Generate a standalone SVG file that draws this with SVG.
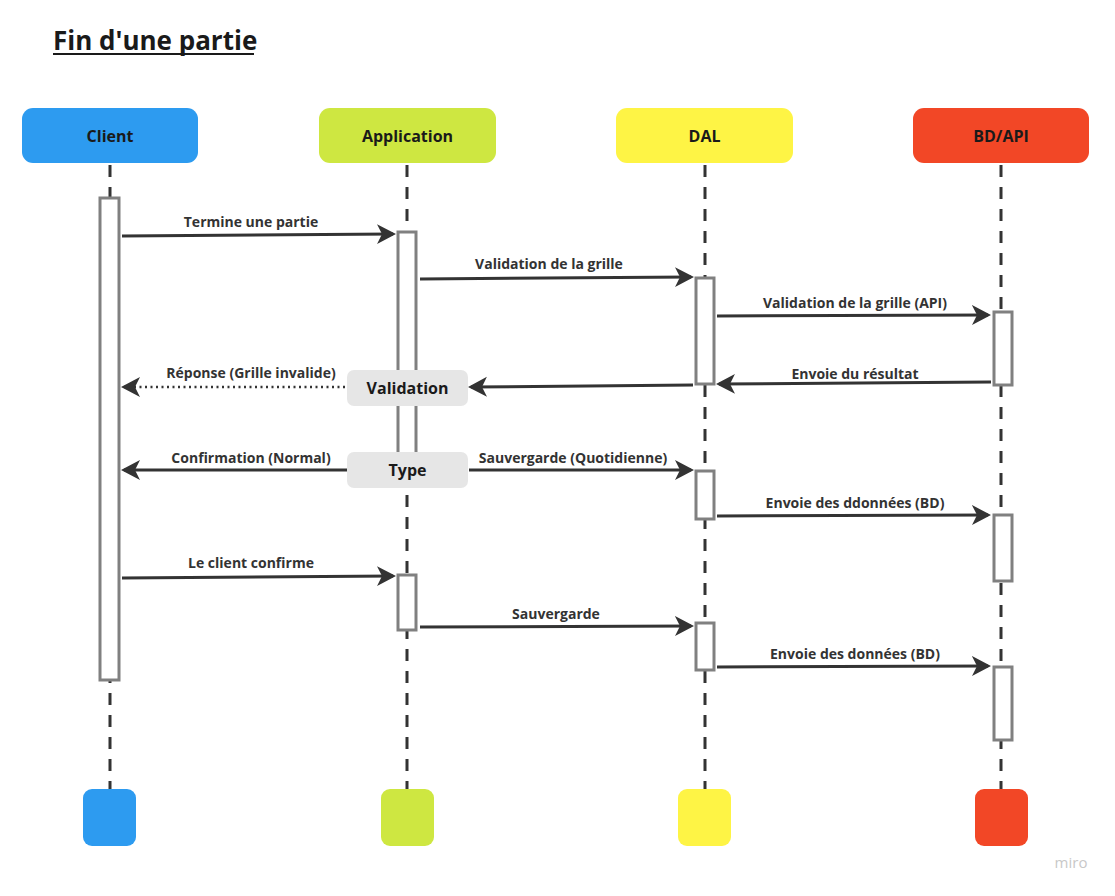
<svg xmlns="http://www.w3.org/2000/svg" width="1115" height="896" viewBox="0 0 1115 896">
<style>
.hdr{font-family:"Open Sans","Liberation Sans",sans-serif;font-weight:700;font-size:16px;fill:#1a1a1a;text-anchor:middle}
.lbl{font-family:"Open Sans","Liberation Sans",sans-serif;font-weight:700;font-size:14px;fill:#333;text-anchor:middle}
.life{stroke:#333;stroke-width:3;stroke-dasharray:12 10;fill:none}
.act{fill:#fff;stroke:#808080;stroke-width:3}
.msg{stroke:#333;stroke-width:3;fill:none;marker-end:url(#ah)}
.dot{stroke:#333;stroke-width:2.5;stroke-dasharray:2 3.5;fill:none;marker-end:url(#ah)}
.frag{fill:#e6e6e6}
</style>
<defs>
<marker id="ah" markerUnits="userSpaceOnUse" markerWidth="20" markerHeight="22" viewBox="0 0 20 22" refX="16" refY="11" orient="auto">
<path d="M0,1 L19,11 L0,21 L5,11 Z" fill="#333"/>
</marker>
</defs>
<rect width="1115" height="896" fill="#fff"/>
<g id="title">
<text x="53" y="50" font-family="'Open Sans','Liberation Sans',sans-serif" font-weight="700" font-size="26" fill="#1a1a1a">Fin d'une partie</text>
<line x1="53" y1="54" x2="254" y2="54" stroke="#1a1a1a" stroke-width="2"/>
</g>
<g id="lifelines">
<line class="life" x1="110" y1="165" x2="110" y2="789"/>
<line class="life" x1="407" y1="165" x2="407" y2="789"/>
<line class="life" x1="705" y1="165" x2="705" y2="789"/>
<line class="life" x1="1001" y1="165" x2="1001" y2="789"/>
</g>
<g id="client">
<rect x="22" y="108" width="176" height="55" rx="11" fill="#2d9bf0"/>
<text class="hdr" x="110" y="141.5">Client</text>
<rect x="83" y="789" width="53" height="57" rx="9" fill="#2d9bf0"/>
<rect class="act" x="100" y="198" width="19" height="482"/>
</g>
<g id="application">
<rect x="319" y="108" width="177" height="55" rx="11" fill="#cee741"/>
<text class="hdr" x="407.5" y="141.5">Application</text>
<rect x="381" y="789" width="53" height="57" rx="9" fill="#cee741"/>
<rect class="act" x="398" y="232" width="18" height="230"/>
<rect class="act" x="398" y="575" width="18" height="55"/>
</g>
<g id="dal">
<rect x="616" y="108" width="177" height="55" rx="11" fill="#fef445"/>
<text class="hdr" x="704.5" y="141.5">DAL</text>
<rect x="678" y="789" width="53" height="57" rx="9" fill="#fef445"/>
<rect class="act" x="696" y="278" width="18" height="106"/>
<rect class="act" x="696" y="471" width="18" height="48"/>
<rect class="act" x="696" y="623" width="18" height="47"/>
</g>
<g id="bdapi">
<rect x="913" y="108" width="176" height="55" rx="11" fill="#f24726"/>
<text class="hdr" x="1001" y="141.5">BD/API</text>
<rect x="975" y="789" width="53" height="57" rx="9" fill="#f24726"/>
<rect class="act" x="994" y="312" width="18" height="73"/>
<rect class="act" x="994" y="515" width="18" height="66"/>
<rect class="act" x="994" y="667" width="18" height="73"/>
</g>
<g id="connectors">
<line class="msg" x1="122" y1="236" x2="393" y2="234"/>
<line class="msg" x1="420" y1="279" x2="691" y2="277"/>
<line class="msg" x1="717" y1="316" x2="988" y2="315"/>
<line class="msg" x1="991" y1="382" x2="719" y2="384"/>
<line class="msg" x1="693" y1="385" x2="471" y2="387"/>
<line class="dot" x1="345" y1="387" x2="124" y2="387"/>
<line class="msg" x1="347" y1="470" x2="124" y2="470"/>
<line class="msg" x1="469" y1="470" x2="691" y2="470"/>
<line class="msg" x1="717" y1="516" x2="988" y2="515"/>
<line class="msg" x1="122" y1="578" x2="393" y2="576"/>
<line class="msg" x1="420" y1="627" x2="691" y2="626"/>
<line class="msg" x1="717" y1="667" x2="988" y2="666"/>
</g>
<g id="validation">
<rect class="frag" x="347" y="370" width="121" height="36" rx="7"/>
<text class="hdr" x="407.5" y="394">Validation</text>
</g>
<g id="type">
<rect class="frag" x="347" y="452" width="121" height="36" rx="7"/>
<text class="hdr" x="407.5" y="476">Type</text>
</g>
<g id="labels">
<text class="lbl" x="251" y="227">Termine une partie</text>
<text class="lbl" x="549" y="269">Validation de la grille</text>
<text class="lbl" x="855" y="308">Validation de la grille (API)</text>
<text class="lbl" x="855" y="379">Envoie du résultat</text>
<text class="lbl" x="251" y="378">Réponse (Grille invalide)</text>
<text class="lbl" x="251" y="463">Confirmation (Normal)</text>
<text class="lbl" x="573" y="463">Sauvergarde (Quotidienne)</text>
<text class="lbl" x="855" y="508">Envoie des ddonnées (BD)</text>
<text class="lbl" x="251" y="568">Le client confirme</text>
<text class="lbl" x="556" y="619">Sauvergarde</text>
<text class="lbl" x="855" y="659">Envoie des données (BD)</text>
</g>
<text x="1071" y="868" font-family="'Open Sans','Liberation Sans',sans-serif" font-size="15" fill="#c8c8c8" text-anchor="middle">miro</text>
</svg>
